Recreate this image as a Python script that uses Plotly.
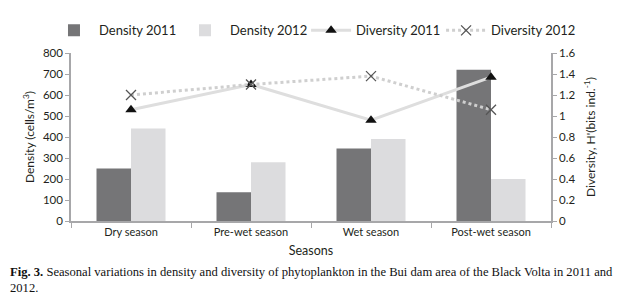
import plotly.graph_objects as go

seasons = ["Dry season", "Pre-wet season", "Wet season", "Post-wet season"]
density_2011 = [250, 137, 345, 720]
density_2012 = [440, 280, 390, 200]
diversity_2011 = [1.06, 1.30, 0.96, 1.37]
diversity_2012 = [1.20, 1.30, 1.38, 1.06]

left_ticks = [0, 100, 200, 300, 400, 500, 600, 700, 800]
right_ticks = [0, 0.2, 0.4, 0.6, 0.8, 1, 1.2, 1.4, 1.6]

font_main = "Lato, Open Sans, sans-serif"
txt = "#231f20"
axis_col = "#a7a7a9"

fig = go.Figure()
fig.add_trace(go.Bar(x=seasons, y=density_2011, name="Density 2011", legend="legend",
                     marker=dict(color="#757577", line=dict(width=0))))
fig.add_trace(go.Bar(x=seasons, y=density_2012, name="Density 2012", legend="legend",
                     marker=dict(color="#dcdcde", line=dict(width=0))))
fig.add_trace(go.Scatter(x=seasons, y=diversity_2011, name="Diversity 2011", yaxis="y2",
                         legend="legend2", mode="lines+markers",
                         line=dict(color="#dedede", width=3),
                         marker=dict(symbol="triangle-up", color="#111111", size=10)))
fig.add_trace(go.Scatter(x=seasons, y=diversity_2012, name="Diversity 2012", yaxis="y2",
                         legend="legend2", mode="lines+markers",
                         line=dict(color="#cfcfcf", width=3, dash="dot"),
                         marker=dict(symbol="x-thin", size=10,
                                     line=dict(color="#555555", width=1.3))))

leg_common = dict(orientation="h", xref="container", yref="container",
                  xanchor="left", yanchor="top", y=0.975,
                  font=dict(size=13, color=txt), bgcolor="rgba(0,0,0,0)",
                  itemwidth=40, entrywidthmode="pixels")

fig.update_layout(
    width=621, height=296,
    margin=dict(l=63, r=78, t=45, b=83, autoexpand=False),
    paper_bgcolor="white", plot_bgcolor="white",
    font=dict(family=font_main, size=11, color=txt),
    barmode="group", bargap=0.425, bargroupgap=0,
    showlegend=True,
    legend=dict(leg_common, x=0.066, entrywidth=76),
    legend2=dict(leg_common, x=0.48, entrywidth=80),
    xaxis=dict(showline=True, linecolor=axis_col, linewidth=1.5,
               ticks="outside", tickson="boundaries", ticklen=5, tickcolor=axis_col,
               tickfont=dict(size=11, color=txt),
               title=dict(text="Seasons", font=dict(size=12.5, color=txt), standoff=9),
               showgrid=False, zeroline=False),
    yaxis=dict(range=[0, 800], tickvals=left_ticks, showline=True, linecolor=axis_col,
               linewidth=1.5, ticks="outside", ticklen=4, tickcolor=axis_col,
               tickfont=dict(size=11.5, color=txt), showgrid=False, zeroline=False,
               title=dict(text="Density (cells/m<sup>3</sup>)", font=dict(size=12, color=txt),
                          standoff=6)),
    yaxis2=dict(range=[0, 1.6], tickvals=right_ticks, overlaying="y", side="right",
                showline=True, linecolor=axis_col, linewidth=1.5, ticks="outside",
                ticklen=4, tickcolor=axis_col, tickfont=dict(size=11.5, color=txt),
                showgrid=False, zeroline=False,
                title=dict(text="Diversity, H'(bits ind.<sup>-1</sup>)",
                           font=dict(size=12, color=txt), standoff=12)),
)

fig.add_annotation(xref="paper", yref="paper", x=-0.131, y=-0.25,
                   xanchor="left", yanchor="top",
                   showarrow=False, align="left",
                   text="<b>Fig. 3.</b> Seasonal variations in density and diversity of phytoplankton in the Bui dam area of the Black Volta in 2011 and<br>2012.",
                   font=dict(family="Liberation Serif, Times New Roman, serif", size=12.6, color="#111111"))

fig.write_html("out.html")
